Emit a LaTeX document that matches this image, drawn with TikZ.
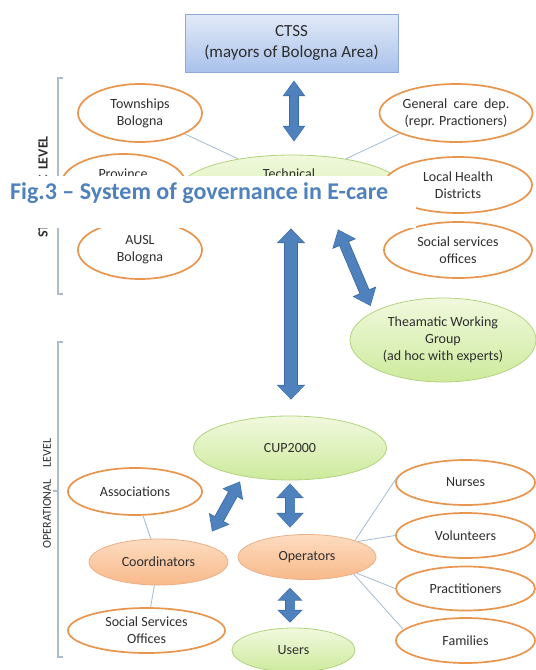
\documentclass[tikz,border=0pt]{standalone}
\usepackage{fontspec}
\setmainfont{Carlito}
\usetikzlibrary{shapes.geometric,arrows.meta,calc}
\definecolor{ringc}{HTML}{E8954E}
\definecolor{txt}{HTML}{2E2E2E}
\definecolor{greent}{HTML}{F1F9DE}
\definecolor{greenbt}{HTML}{CDEA9C}
\definecolor{greenb}{HTML}{B2D47F}
\definecolor{oranget}{HTML}{FDDCC0}
\definecolor{orangebt}{HTML}{F8B98A}
\definecolor{orangeb}{HTML}{EBB088}
\definecolor{ctsst}{HTML}{E2EAF7}
\definecolor{ctssb}{HTML}{A9C2EC}
\definecolor{ctssd}{HTML}{8DA9D9}
\definecolor{arrowfillc}{HTML}{4F81BD}
\definecolor{arrowedgec}{HTML}{3A6AA6}
\definecolor{linec}{HTML}{A7BBD3}
\definecolor{bracketc}{HTML}{AEBBCC}
\definecolor{capc}{HTML}{4F81BD}
\newcommand\fatarr[5]{%
  \pgfmathsetmacro\fao{#1+1.6}\pgfmathsetmacro\fwo{#2+2.6}\pgfmathsetmacro\flo{#3+1.8}%
  \draw[color=arrowedgec, line width=\fao pt, {Triangle[width=\fwo pt,length=\flo pt]}-{Triangle[width=\fwo pt,length=\flo pt]}] #4 -- #5;
  \draw[color=arrowfillc, line width=#1pt, shorten <=0.9pt, shorten >=0.9pt, {Triangle[width=#2pt,length=#3pt]}-{Triangle[width=#2pt,length=#3pt]}] #4 -- #5;}
\begin{document}
\begin{tikzpicture}[x=1pt,y=-1pt,
  basefont/.style={font=\fontsize{14}{17}\selectfont, text=txt, align=center},
  ring/.style={ellipse, draw=ringc, line width=1.7pt, fill=white, inner sep=0pt, basefont},
  gfill/.style={ellipse, draw=greenb, line width=0.8pt, top color=greent, bottom color=greenbt, inner sep=0pt, basefont},
  ofill/.style={ellipse, draw=orangeb, line width=0.8pt, top color=oranget, bottom color=orangebt, inner sep=0pt, basefont},
  ctssbox/.style={rectangle, draw=ctssd, line width=0.8pt, top color=ctsst, bottom color=ctssb, inner sep=0pt, font=\fontsize{17}{21}\selectfont, text=txt, align=center},
  txtonly/.style={inner sep=0pt, basefont},
  conn/.style={draw=linec, line width=0.8pt},
  brk/.style={draw=bracketc, line width=1.3pt}]
\useasboundingbox (0,0) rectangle (536,670);
\fill[white] (0,0) rectangle (536,670);

% strategic level
\node[ctssbox, minimum width=213pt, minimum height=58pt] (ctss) at (291.5,43) {CTSS\\(mayors of Bologna Area)};
\node[gfill, minimum width=225pt, minimum height=70pt] (tech) at (292,190) {};
\node[txtonly] (techtxt) at (289,174) {Technical};
\node[ring, minimum width=124pt, minimum height=58pt] (town) at (140,113) {Townships\\Bologna};
\node[ring, minimum width=124pt, minimum height=60pt] (prov) at (123.5,184) {};
\node[txtonly] (provtxt) at (123,174) {Province};
\node[ring, minimum width=124pt, minimum height=58pt] (ausl) at (140,250) {AUSL\\Bologna};
\node[ring, minimum width=153pt, minimum height=58pt] (gen) at (456,113) {General\hspace{0.45em}care\hspace{0.45em}dep.\\(repr. Practioners)};
\node[ring, minimum width=148pt, minimum height=56pt] (lhd) at (458,185) {Local Health\\Districts};
\node[ring, minimum width=148pt, minimum height=56pt] (ssa) at (458,250) {Social services\\offices};
\node[gfill, minimum width=186pt, minimum height=84pt] (theam) at (443,340) {Theamatic Working\\Group\\(ad hoc with experts)};

\draw[conn] (town.-25) -- (tech.150);
\draw[conn] (gen.-160) -- (tech.30);

% operational level
\node[gfill, minimum width=193pt, minimum height=64pt] (cup) at (290,448) {CUP2000};
\node[ring, minimum width=134pt, minimum height=47pt] (assoc) at (135,491.5) {Associations};
\node[ofill, minimum width=139pt, minimum height=46pt] (coord) at (158.5,562) {Coordinators};
\node[ring, minimum width=157pt, minimum height=45pt] (ssb) at (146.5,630.5) {Social Services\\Offices};
\node[ofill, minimum width=138pt, minimum height=45pt] (oper) at (307,557) {Operators};
\node[gfill, minimum width=123pt, minimum height=44pt] (users) at (293.5,650) {Users};
\node[ring, minimum width=139pt, minimum height=45pt] (nurses) at (465.5,482.5) {Nurses};
\node[ring, minimum width=139pt, minimum height=45pt] (vol) at (465.5,535.5) {Volunteers};
\node[ring, minimum width=139pt, minimum height=44pt] (prac) at (465.5,588.5) {Practitioners};
\node[ring, minimum width=139pt, minimum height=45pt] (fam) at (465.5,640.5) {Families};

\draw[conn] (assoc) -- (coord);
\draw[conn] (coord) -- (ssb);
\draw[conn] (oper.19) -- (nurses.175);
\draw[conn] (oper.17) -- (vol.180);
\draw[conn] (oper.-18) -- (prac.180);
\draw[conn] (oper.-20) -- (fam.170);

% fat arrows
\fatarr{8}{19}{14}{($(ctss.south)+(2.5,8)$)}{($(tech.north)+(2,-13)$)}
\fatarr{12}{25}{13}{($(tech.south)+(-1,3)$)}{($(cup.north)+(1,-16)$)}
\fatarr{9}{22}{14}{($(tech.south)+(46,4)$)}{($(theam.west)+(21,-34)$)}
\fatarr{9}{24}{13}{($(cup.south)+(0,3)$)}{($(oper.north)+(-17,-6.5)$)}
\fatarr{9}{22}{11}{($(oper.south)+(-17,8)$)}{($(users.north)+(-3.5,-5)$)}
\fatarr{9}{20}{13}{($(cup.south)+(-50,1)$)}{($(coord.north)+(53.5,-7)$)}

% brackets and level labels
\draw[brk] (63,78) -- (58,78) -- (58,294) -- (63,294);
\draw[brk] (63,342) -- (58,342) -- (58,657) -- (63,657);
\draw[brk] (53,491) -- (58,491);
\node[rotate=90, inner sep=0pt, font=\bfseries\fontsize{14}{17}\selectfont, text=txt] (strat) at (43,187) {STRATEGIC\hspace{0.4em}LEVEL};
\node[rotate=90, inner sep=0pt, font=\fontsize{12}{14}\selectfont, text=txt] (oplab) at (47,493.5) {OPERATIONAL\hspace{1em}LEVEL};

% caption band
\fill[white] (0,176) rectangle (416,228);
\node[anchor=base west, inner sep=0pt, font=\bfseries\fontsize{24}{28}\selectfont, text=capc] (cap) at (10,199) {Fig.3 – System of governance in E-care};
\end{tikzpicture}
\end{document}
